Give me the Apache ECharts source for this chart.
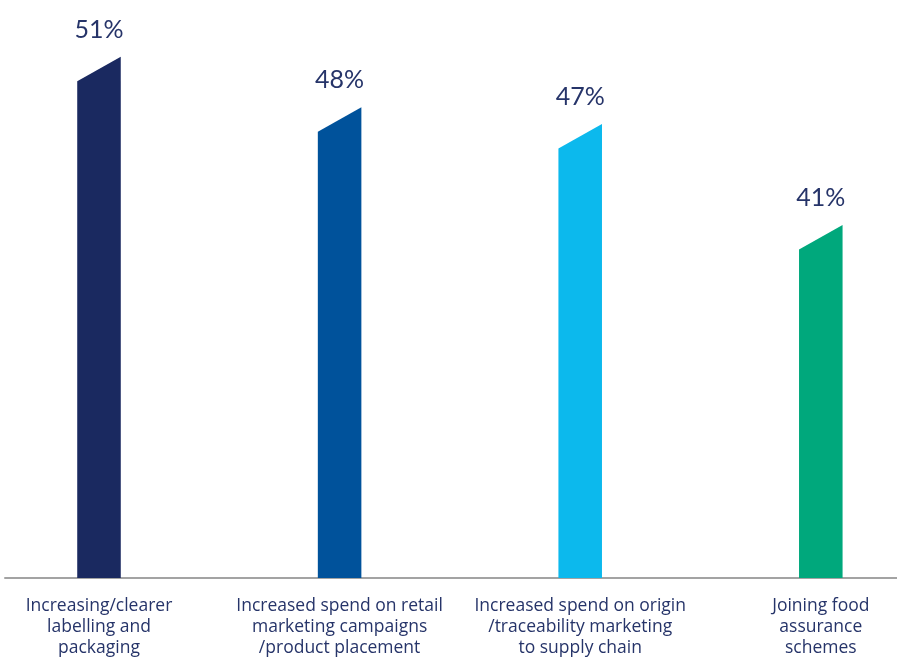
<!DOCTYPE html>
<html>
<head>
<meta charset="utf-8">
<script src="https://cdn.jsdelivr.net/npm/echarts@6/dist/echarts.min.js"></script>
<style>
html,body{margin:0;padding:0;background:#fff;}
#c{width:897px;height:657px;}
</style>
</head>
<body>
<div id="c"></div>
<script>
var categories = [
  "Increasing/clearer\nlabelling and\npackaging",
  "Increased spend on retail\nmarketing campaigns\n/product placement",
  "Increased spend on origin\n/traceability marketing\nto supply chain",
  "Joining food\nassurance\nschemes"
];
var values = [51, 48, 47, 41];
var colors = ["#1a2960", "#00529b", "#0cb9ed", "#00a87c"];

var chart = echarts.init(document.getElementById('c'));
var Y_MIN = 20, Y_MAX = 52;
var TEXT_COLOR = "#263469";

chart.setOption({
  animation: false,
  backgroundColor: "#ffffff",
  grid: [
    {left: -21.3, width: 962.4, top: 40, bottom: 79, outerBoundsMode: 'none', containLabel: false},
    {left: 5, right: 0, top: 40, bottom: 79, outerBoundsMode: 'none', containLabel: false}
  ],
  xAxis: [
    {
      type: 'category', gridIndex: 0, data: categories,
      axisLine: {show: false}, axisTick: {show: false},
      axisLabel: {
        interval: 0, margin: 18, color: TEXT_COLOR,
        fontFamily: 'Open Sans', fontSize: 17.5, lineHeight: 21, align: 'center'
      }
    },
    {
      type: 'value', gridIndex: 1, min: 0, max: 1,
      axisLine: {show: true, onZero: false, lineStyle: {color: '#a3a3a3', width: 2}},
      axisTick: {show: false}, axisLabel: {show: false}, splitLine: {show: false}
    }
  ],
  yAxis: [
    {type: 'value', gridIndex: 0, min: Y_MIN, max: Y_MAX, show: false},
    {type: 'value', gridIndex: 1, min: 0, max: 1, show: false}
  ],
  series: [{
    type: 'custom',
    xAxisIndex: 0, yAxisIndex: 0,
    data: values.map(function (v, i) { return [i, v]; }),
    renderItem: function (params, api) {
      var idx = api.value(0);
      var top = api.coord([idx, api.value(1)]);
      var base = api.coord([idx, Y_MIN]);
      var band = api.size([1, 0])[0];
      var w = band * 0.181;
      var slant = 24.5;
      var cx = top[0];
      return {
        type: 'group',
        children: [
          {
            type: 'polygon',
            shape: {points: [
              [cx - w / 2, base[1]],
              [cx - w / 2, top[1] + slant],
              [cx + w / 2, top[1]],
              [cx + w / 2, base[1]]
            ]},
            style: {fill: colors[params.dataIndex]}
          },
          {
            type: 'text',
            style: {
              text: api.value(1) + '%',
              x: cx, y: top[1] - 27,
              textAlign: 'center', textVerticalAlign: 'middle',
              fill: TEXT_COLOR,
              font: '25px Lato'
            }
          }
        ]
      };
    }
  }]
});
</script>
</body>
</html>
